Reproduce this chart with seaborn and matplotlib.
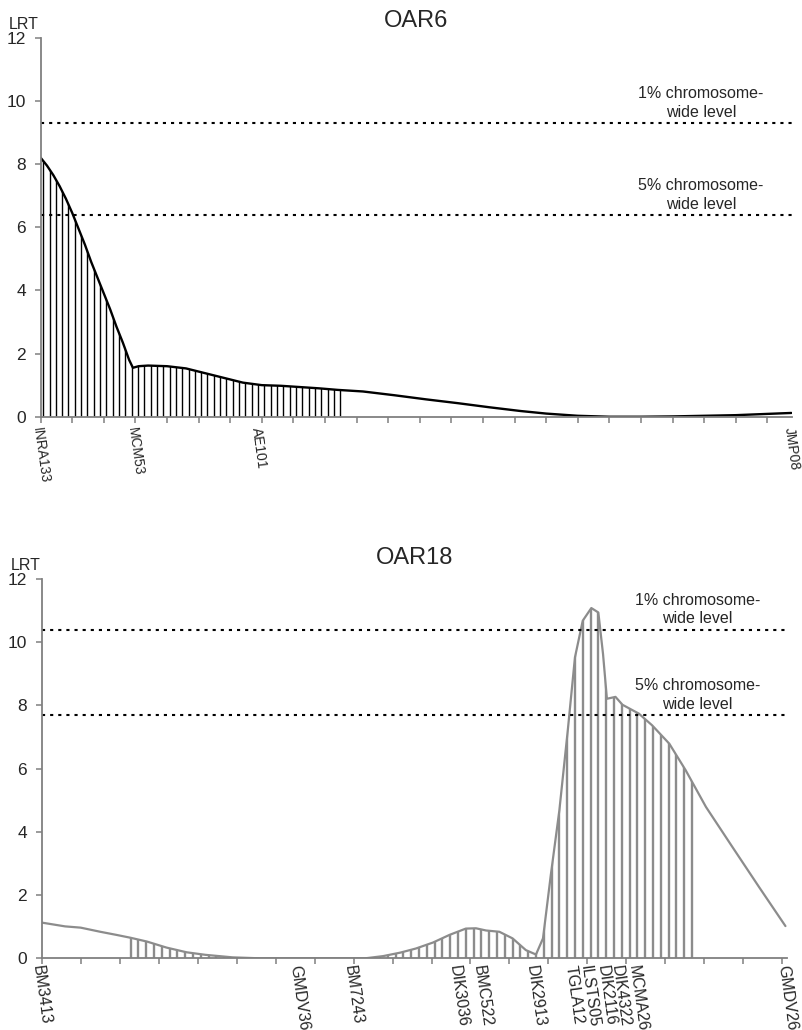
import numpy as np
import pandas as pd
import matplotlib
matplotlib.use("Agg")
import matplotlib.pyplot as plt
import seaborn as sns

# OAR6 LRT profile (position in cM, LRT)
oar6_cm = [0, 1, 2, 3, 4, 5, 6, 7, 8, 9, 10, 11, 12, 13, 14, 14.6, 15.5, 17, 20,
           23, 26, 29, 32, 35, 38, 41, 44, 47, 51, 56, 61, 66, 71, 76, 80, 85,
           90, 95, 100, 105, 110, 115, 118.8]
oar6_lrt = [8.2, 7.95, 7.65, 7.3, 6.9, 6.45, 5.95, 5.45, 4.9, 4.4, 3.9, 3.4, 2.85,
            2.35, 1.8, 1.55, 1.6, 1.62, 1.6, 1.53, 1.38, 1.23, 1.08, 1.0, 0.98,
            0.94, 0.9, 0.85, 0.8, 0.68, 0.55, 0.43, 0.3, 0.18, 0.1, 0.03, 0.0,
            0.0, 0.01, 0.03, 0.05, 0.09, 0.12]
oar6_markers = ["INRA133", "MCM53", "AE101", "JMP08"]
oar6_marker_cm = [0, 15, 34.5, 118.8]
oar6_thresholds = [9.31, 6.39]
oar6_hatch_end = 47.6

# OAR18 LRT profile
oar18_cm = [0, 3, 5, 7.5, 9.6, 11.4, 13.5, 16, 18.6, 21, 24.5, 28, 35, 41.5, 43.8,
            46, 48, 50.2, 52.3, 54.4, 55.7, 57, 58.7, 60.4, 62.1, 63.4, 64.3,
            65.3, 66.4, 67.5, 68.4, 69.4, 70.5, 71.4, 72.0, 72.5, 73.6, 74.5,
            76.6, 78.3, 80.5, 82.6, 85.2, 88.6, 92, 95.4]
oar18_lrt = [1.13, 1.01, 0.97, 0.84, 0.74, 0.65, 0.53, 0.34, 0.19, 0.11, 0.03, 0.0,
             0.0, 0.0, 0.07, 0.18, 0.31, 0.5, 0.74, 0.94, 0.95, 0.88, 0.84, 0.63,
             0.26, 0.12, 0.63, 2.63, 4.68, 7.26, 9.52, 10.68, 11.08, 10.94, 9.63,
             8.21, 8.27, 8.02, 7.74, 7.37, 6.79, 5.95, 4.79, 3.52, 2.26, 1.02]
oar18_markers = ["BM3413", "GMDV36", "BM7243", "DIK3036", "BMC522", "DIK2913",
                 "TGLA12", "ILSTS05", "DIK2116", "DIK4322", "MCMA26", "GMDV26"]
oar18_marker_cm = [0, 33, 40, 53.5, 56.5, 63.4, 68.3, 70.3, 72.4, 74.3, 76.5, 95.6]
oar18_thresholds = [10.4, 7.7]
oar18_hatch = (11.4, 83.6)

threshold_labels = ["1% chromosome-\nwide level", "5% chromosome-\nwide level"]

sns.set_style("white")
plt.rcParams["font.family"] = ["Liberation Sans", "DejaVu Sans"]

fig = plt.figure(figsize=(8.02, 10.30), dpi=100)
ax1 = fig.add_axes([0.0507, 0.5954, 0.9368, 0.368])
ax2 = fig.add_axes([0.052, 0.0696, 0.9293, 0.3683])


def draw_panel(ax, cm, lrt, color, lw, hatch_from, hatch_to, hatch_lw, xmax,
               markers, marker_cm, thresholds, title, title_pad, label_x,
               marker_size, marker_pad):
    df = pd.DataFrame({"cM": cm, "LRT": lrt})

    # area under the curve, used only to clip the vertical hatch lines
    area = ax.fill_between(df["cM"], df["LRT"], 0, facecolor="none",
                           edgecolor="none")
    hatch = ax.vlines(np.arange(hatch_from, hatch_to + 0.01, 1.0), 0, 12,
                      color=color, lw=hatch_lw)
    hatch.set_clip_path(area.get_paths()[0], ax.transData)

    sns.lineplot(data=df, x="cM", y="LRT", ax=ax, color=color, lw=lw,
                 estimator=None, sort=False)

    for thr, txt in zip(thresholds, threshold_labels):
        ax.axhline(thr, color="black", lw=1.5, linestyle=(0, (1.5, 2.4)))
        ax.text(label_x, thr + 0.1, txt, ha="center", va="bottom",
                fontsize=11.5, linespacing=1.3, multialignment="center")

    ax.set_xlim(0, xmax)
    ax.set_ylim(0, 12)
    ax.set_yticks(range(0, 13, 2))
    # markers sit on minor ticks; keep those that share a major tick position
    ax.xaxis.remove_overlapping_locs = False
    ax.set_xticks(np.arange(0, xmax, 5))
    ax.set_xticklabels([])
    ax.set_xticks(marker_cm, labels=markers, minor=True)
    for t in ax.get_xticklabels(minor=True):
        t.set_rotation(-82)
        t.set_ha("center")
        t.set_va("top")
    ax.tick_params(axis="x", which="minor", length=0, pad=marker_pad,
                   labelsize=marker_size)
    ax.tick_params(axis="x", which="major", direction="out", length=4.5,
                   width=1.1, color="#808080", bottom=True)
    ax.tick_params(axis="y", direction="out", length=4.5, width=1.1,
                   color="#808080", left=True, labelsize=12.5, pad=6)

    sns.despine(ax=ax)
    for side in ["left", "bottom"]:
        ax.spines[side].set_color("#808080")
        ax.spines[side].set_linewidth(1.3)

    ax.set_xlabel("")
    ax.set_ylabel("")
    ax.text(-0.042, 1.015, "LRT", transform=ax.transAxes, ha="left",
            va="bottom", fontsize=11.5)
    ax.set_title(title, fontsize=17, pad=title_pad)


draw_panel(ax1, oar6_cm, oar6_lrt, "black", 1.7, 0.4, oar6_hatch_end, 1.0, 118.9,
           oar6_markers, oar6_marker_cm, oar6_thresholds, "OAR6", 8, 104.5,
           10, 7)
draw_panel(ax2, oar18_cm, oar18_lrt, "#8c8c8c", 1.6, oar18_hatch[0],
           oar18_hatch[1], 1.7, 95.5, oar18_markers, oar18_marker_cm,
           oar18_thresholds, "OAR18", 11, 84.1, 11.5, 4)

fig.savefig("out.png", dpi=100)
plt.close(fig)
